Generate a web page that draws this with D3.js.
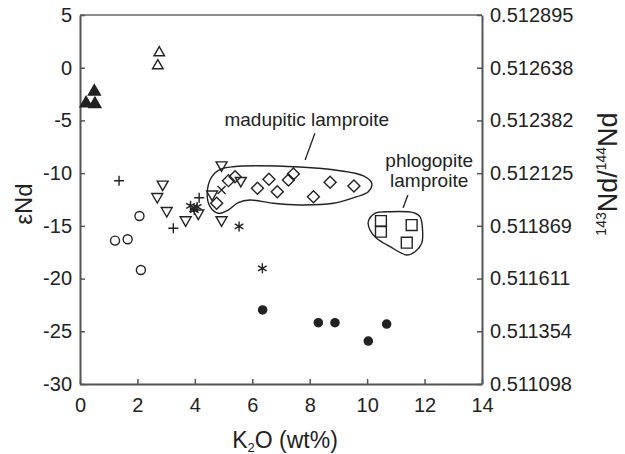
<!DOCTYPE html>
<html>
<head>
<meta charset="utf-8">
<script src="https://cdn.jsdelivr.net/npm/d3@7"></script>
<style>
  body { margin: 0; background: #fff; }
  text { font-family: "Liberation Sans", Arial, sans-serif; fill: #222; }
</style>
</head>
<body>
<div id="chart"></div>
<script>
// Data (K2O wt%, eNd)
const triUpOpen = [[2.76, 1.42], [2.71, 0.19]]
const triUpFilled = [[0.5, -2.27], [0.21, -3.38], [0.52, -3.44]]
const triDown = [[4.93, -9.23], [2.88, -11.06], [2.69, -12.23], [3.02, -13.56], [3.68, -14.44],
  [4.12, -13.8], [4.93, -14.44], [5.6, -10.71], [4.6, -12.0]]
const diamonds = [[4.76, -12.86], [5.17, -10.71], [5.4, -10.34], [6.18, -11.44], [6.58, -10.59],
  [6.87, -11.76], [7.26, -10.65], [7.43, -10.08], [8.13, -12.23], [8.71, -10.87], [9.54, -11.22]]
const squares = [[10.48, -14.54], [10.48, -15.55], [11.55, -14.92], [11.38, -16.6]]
const circlesOpen = [[2.07, -14.07], [1.22, -16.4], [1.66, -16.27], [2.12, -19.19]]
const circlesFilled = [[6.36, -22.98], [8.3, -24.19], [8.88, -24.19], [10.04, -25.93], [10.68, -24.31]]
const plusMarks = [[1.36, -10.72], [3.25, -15.23], [4.15, -12.33]]
const crossMarks = [[4.93, -11.6], [3.95, -13.3]]
const stars = [[3.85, -13.1], [3.98, -13.5], [4.08, -13.2], [5.54, -15.05], [6.35, -19.03]]

// Field outlines
const madupiticOutline = [[4.43, -11.91], [4.59, -10.34], [4.88, -9.64], [5.34, -9.39], [7.66, -9.42],
  [9.05, -9.77], [9.87, -10.27], [10.16, -10.96], [10.04, -11.76], [9.64, -12.23], [8.82, -12.86],
  [7.66, -13.02], [6.73, -12.86], [5.92, -12.55], [5.51, -12.8], [5.16, -13.5], [4.82, -13.81], [4.53, -13.18]]
const phlogopiteOutline = [[10.04, -14.61], [10.27, -13.81], [10.8, -13.66], [11.61, -13.75], [11.84, -14.13],
  [11.93, -15.39], [11.9, -16.65], [11.67, -17.45], [11.38, -17.76], [10.8, -16.98], [10.33, -16.18], [10.1, -15.39]]

// Ticks
const xTicks = [0, 2, 4, 6, 8, 10, 12, 14]
const yTicks = [5, 0, -5, -10, -15, -20, -25, -30]
const ratioLabels = ['0.512895', '0.512638', '0.512382', '0.512125', '0.511869', '0.511611', '0.511354', '0.511098']

function draw() {
  let dimensions = {
    width: 625,
    height: 454,
    margin: { top: 15, bottom: 70, left: 80, right: 143 }
  }
  dimensions.containerWidth = dimensions.width - dimensions.margin.left - dimensions.margin.right
  dimensions.containerHeight = dimensions.height - dimensions.margin.top - dimensions.margin.bottom

  const svg = d3.select('#chart')
    .append('svg')
    .attr('width', dimensions.width)
    .attr('height', dimensions.height)

  const container = svg.append('g')
    .attr('transform', `translate(${dimensions.margin.left}, ${dimensions.margin.top})`)

  // Scales
  const xScale = d3.scaleLinear().domain([0, 14]).range([0, dimensions.containerWidth])
  const yScale = d3.scaleLinear().domain([-30, 5]).range([dimensions.containerHeight, 0])

  // Frame: top line is lighter
  container.append('line')
    .attr('x1', 0).attr('x2', dimensions.containerWidth)
    .attr('y1', 0).attr('y2', 0)
    .attr('stroke', '#8c8c8c').attr('stroke-width', 2)

  // Axes (plain hyphen for negatives, like the original)
  const plain = d => String(d)
  const xAxis = d3.axisBottom(xScale).tickValues(xTicks).tickFormat(plain)
    .tickSizeInner(-5).tickSizeOuter(0).tickPadding(14)
  const yAxis = d3.axisLeft(yScale).tickValues(yTicks).tickFormat(plain)
    .tickSizeInner(-5).tickSizeOuter(0).tickPadding(8)
  const rAxis = d3.axisRight(yScale).tickValues(yTicks).tickSizeInner(-5).tickSizeOuter(0).tickPadding(8)
    .tickFormat((d, i) => ratioLabels[i])

  const styleAxis = g => {
    g.select('.domain').attr('stroke', '#555').attr('stroke-width', 2)
    g.selectAll('.tick line').attr('stroke', '#555').attr('stroke-width', 1.5)
    g.selectAll('.tick text').style('font-size', '20px').attr('fill', '#222')
    g.attr('font-family', null)
  }

  container.append('g')
    .attr('transform', `translate(0, ${dimensions.containerHeight})`)
    .call(xAxis).call(styleAxis)
  container.append('g').call(yAxis).call(styleAxis)
  container.append('g')
    .attr('transform', `translate(${dimensions.containerWidth}, 0)`)
    .call(rAxis).call(styleAxis)

  // Axis titles
  const xTitle = svg.append('text')
    .attr('x', 285).attr('y', 448)
    .attr('text-anchor', 'middle')
    .style('font-size', '23px')
  xTitle.append('tspan').text('K')
  xTitle.append('tspan').attr('dy', 4).style('font-size', '13px').text('2')
  xTitle.append('tspan').attr('dy', -4).text('O (wt%)')

  svg.append('text')
    .attr('transform', 'translate(32, 204) rotate(-90)')
    .attr('text-anchor', 'middle')
    .style('font-size', '24px')
    .text('εNd')

  const rTitle = svg.append('text')
    .attr('transform', 'translate(617, 174) rotate(-90)')
    .attr('text-anchor', 'middle')
    .style('font-size', '27px')
  rTitle.append('tspan').attr('dy', -11).style('font-size', '14px').text('143')
  rTitle.append('tspan').attr('dy', 11).text('Nd/')
  rTitle.append('tspan').attr('dy', -11).style('font-size', '14px').text('144')
  rTitle.append('tspan').attr('dy', 11).text('Nd')

  // Field outlines
  const outline = d3.line()
    .x(d => xScale(d[0]))
    .y(d => yScale(d[1]))
    .curve(d3.curveCatmullRomClosed.alpha(0.5))

  container.selectAll('.field')
    .data([madupiticOutline, phlogopiteOutline])
    .join('path')
    .attr('d', outline)
    .attr('fill', 'none')
    .attr('stroke', '#222')
    .attr('stroke-width', 1.4)

  // Leader lines and labels
  const leaders = [[[7.84, -8.75], [8.18, -6.22]], [[11.42, -12.07], [11.25, -13.31]]]
  container.selectAll('.leader')
    .data(leaders)
    .join('line')
    .attr('x1', d => xScale(d[0][0])).attr('y1', d => yScale(d[0][1]))
    .attr('x2', d => xScale(d[1][0])).attr('y2', d => yScale(d[1][1]))
    .attr('stroke', '#222').attr('stroke-width', 1.3)

  const labels = [
    { x: 7.9, y: -5.53, text: 'madupitic lamproite' },
    { x: 12.16, y: -9.39, text: 'phlogopite' },
    { x: 12.16, y: -11.34, text: 'lamproite' }
  ]
  container.selectAll('.label')
    .data(labels)
    .join('text')
    .attr('x', d => xScale(d.x))
    .attr('y', d => yScale(d.y))
    .attr('text-anchor', 'middle')
    .style('font-size', '19px')
    .text(d => d.text)

  // Markers
  const ink = '#222'
  const addSymbols = (data, type, size, filled, rotate) => {
    container.append('g')
      .selectAll('path')
      .data(data)
      .join('path')
      .attr('d', d3.symbol(type, size))
      .attr('transform', d => `translate(${xScale(d[0])}, ${yScale(d[1])}) rotate(${rotate})`)
      .attr('fill', filled ? ink : 'none')
      .attr('stroke', ink)
      .attr('stroke-width', 1.4)
  }

  addSymbols(triUpOpen, d3.symbolTriangle, 48, false, 0)
  addSymbols(triUpFilled, d3.symbolTriangle, 62, true, 0)
  addSymbols(triDown, d3.symbolTriangle, 52, false, 180)
  addSymbols(diamonds, d3.symbolSquare, 72, false, 45)
  addSymbols(squares, d3.symbolSquare, 118, false, 0)
  addSymbols(circlesOpen, d3.symbolCircle, 64, false, 0)
  addSymbols(circlesFilled, d3.symbolCircle, 52, true, 0)

  const strokeMarks = (data, pathString) => {
    container.append('g')
      .selectAll('path')
      .data(data)
      .join('path')
      .attr('d', pathString)
      .attr('transform', d => `translate(${xScale(d[0])}, ${yScale(d[1])})`)
      .attr('fill', 'none')
      .attr('stroke', ink)
      .attr('stroke-width', 1.4)
  }

  strokeMarks(plusMarks, 'M-5,0H5M0,-5V5')
  strokeMarks(crossMarks, 'M-4,-4L4,4M-4,4L4,-4')
  strokeMarks(stars, 'M0,-5V5M-4.3,-2.5L4.3,2.5M-4.3,2.5L4.3,-2.5')
}

draw()
</script>
</body>
</html>
